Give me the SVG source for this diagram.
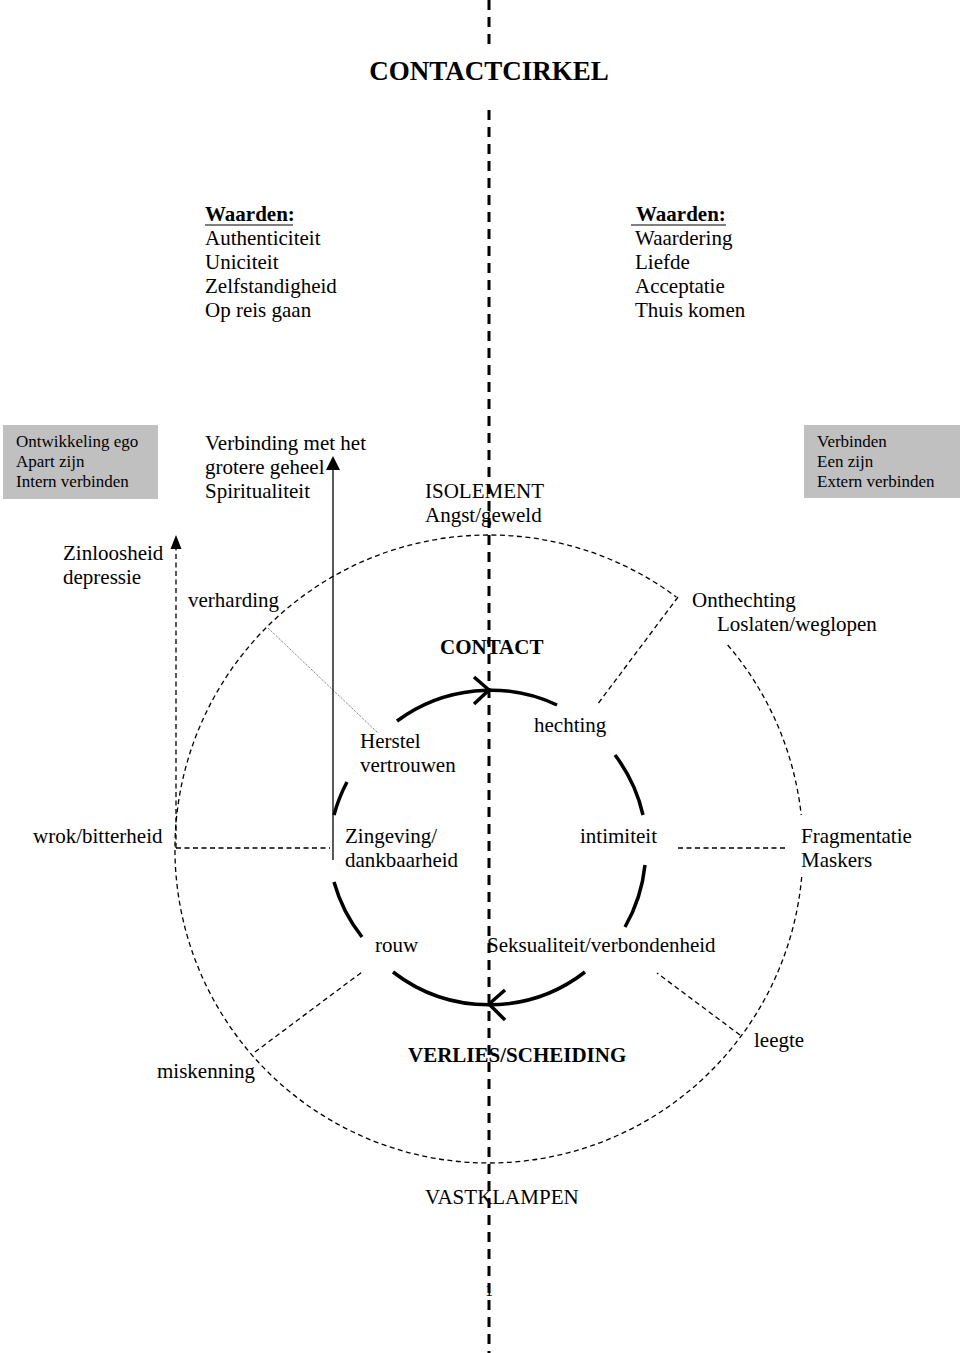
<svg xmlns="http://www.w3.org/2000/svg" width="960" height="1353" viewBox="0 0 960 1353">
<style>
text{font-family:"Liberation Serif","Times New Roman",serif;fill:#000;}
.t{font-size:21px;}
.s{font-size:17px;}
.b{font-weight:bold;}
.axis{stroke:#000;stroke-width:3;stroke-dasharray:10 7;fill:none;}
.dash{stroke:#000;stroke-width:1.3;stroke-dasharray:5 3.5;fill:none;}
.solid{stroke:#000;stroke-width:1.3;fill:none;}
.thick{stroke:#000;stroke-width:3.5;fill:none;}
.dot{stroke:#444;stroke-width:0.9;stroke-dasharray:1 1.2;fill:none;}
.box{fill:#c0c0c0;}
</style>
<rect width="960" height="1353" fill="#fff"/>

<g id="connectors">
  <line class="axis" x1="489" y1="0" x2="489" y2="46"/>
  <line class="axis" x1="489" y1="110" x2="489" y2="1353"/>
  <!-- outer dashed circle -->
  <path class="dash" d="M727.7,645 A314,314 0 0,1 801.2,815"/>
  <path class="dash" d="M801.7,877 A314,314 0 1,1 676.3,597"/>
  <!-- radial dashed lines -->
  <line class="dash" x1="678" y1="597" x2="597" y2="705"/>
  <line class="dash" x1="678" y1="848" x2="787" y2="848"/>
  <line class="dash" x1="740" y1="1035" x2="657" y2="973"/>
  <line class="dash" x1="255" y1="1052" x2="362" y2="972"/>
  <line class="dash" x1="176" y1="848" x2="330" y2="848"/>
  <!-- dotted line -->
  <line class="dot" x1="268" y1="628" x2="378" y2="733"/>
  <!-- left dashed arrow -->
  <line class="dash" x1="176" y1="848" x2="176" y2="547"/>
  <polygon points="176,535 170.5,549 181.5,549" fill="#000"/>
  <!-- solid arrow -->
  <line class="solid" x1="333" y1="860" x2="333" y2="468"/>
  <polygon points="333,456 326,470 340,470" fill="#000"/>
  <!-- inner circle -->
  <path class="thick" d="M397,721 A157,157 0 0,1 557,705"/>
  <path class="thick" d="M615,755 A157,157 0 0,1 643,815"/>
  <path class="thick" d="M645,865 A157,157 0 0,1 625,927"/>
  <path class="thick" d="M585,972 A157,157 0 0,1 393,972"/>
  <path class="thick" d="M362,937 A157,157 0 0,1 334,882"/>
  <path class="thick" d="M334,815 A157,157 0 0,1 347,782"/>
  <polyline class="thick" stroke-width="3" points="474,677 489,690 474,704"/>
  <polyline class="thick" stroke-width="3" points="505,990 489,1004 505,1020"/>
</g>

<g id="title"><text class="b" x="489" y="80" font-size="27" text-anchor="middle">CONTACTCIRKEL</text></g>

<g id="waarden-left">
  <text class="t b" x="205" y="221">Waarden:</text>
  <line x1="205" y1="225" x2="293" y2="225" stroke="#000" stroke-width="1.2"/>
  <text class="t" x="205" y="245">Authenticiteit</text>
  <text class="t" x="205" y="269">Uniciteit</text>
  <text class="t" x="205" y="293">Zelfstandigheid</text>
  <text class="t" x="205" y="317">Op reis gaan</text>
</g>
<g id="waarden-right">
  <text class="t b" x="636" y="221">Waarden:</text>
  <line x1="631" y1="225" x2="726" y2="225" stroke="#000" stroke-width="1.2"/>
  <text class="t" x="635" y="245">Waardering</text>
  <text class="t" x="635" y="269">Liefde</text>
  <text class="t" x="635" y="293">Acceptatie</text>
  <text class="t" x="635" y="317">Thuis komen</text>
</g>

<g id="box-left">
  <rect class="box" x="3" y="425" width="155" height="74"/>
  <text class="s" x="16" y="447">Ontwikkeling ego</text>
  <text class="s" x="16" y="467">Apart zijn</text>
  <text class="s" x="16" y="487">Intern verbinden</text>
</g>
<g id="box-right">
  <rect class="box" x="804" y="425" width="156" height="73"/>
  <text class="s" x="817" y="447">Verbinden</text>
  <text class="s" x="817" y="467">Een zijn</text>
  <text class="s" x="817" y="487">Extern verbinden</text>
</g>

<g id="spiritualiteit">
  <text class="t" x="205" y="450">Verbinding met het</text>
  <text class="t" x="205" y="474">grotere geheel</text>
  <text class="t" x="205" y="498">Spiritualiteit</text>
</g>
<g id="zinloosheid">
  <text class="t" x="63" y="560">Zinloosheid</text>
  <text class="t" x="63" y="584">depressie</text>
</g>
<g id="verharding"><text class="t" x="188" y="607">verharding</text></g>
<g id="isolement">
  <text class="t" x="425" y="498">ISOLEMENT</text>
  <text class="t" x="425" y="522">Angst/geweld</text>
</g>
<g id="onthechting">
  <text class="t" x="692" y="607">Onthechting</text>
  <text class="t" x="717" y="631">Loslaten/weglopen</text>
</g>
<g id="contact"><text class="t b" x="440" y="654">CONTACT</text></g>
<g id="herstel">
  <text class="t" x="360" y="748">Herstel</text>
  <text class="t" x="360" y="772">vertrouwen</text>
</g>
<g id="hechting"><text class="t" x="534" y="732">hechting</text></g>
<g id="wrok"><text class="t" x="33" y="843">wrok/bitterheid</text></g>
<g id="zingeving">
  <text class="t" x="345" y="843">Zingeving/</text>
  <text class="t" x="345" y="867">dankbaarheid</text>
</g>
<g id="intimiteit"><text class="t" x="580" y="843">intimiteit</text></g>
<g id="fragmentatie">
  <text class="t" x="801" y="843">Fragmentatie</text>
  <text class="t" x="801" y="867">Maskers</text>
</g>
<g id="rouw"><text class="t" x="375" y="952">rouw</text></g>
<g id="seksualiteit"><text class="t" x="487" y="952">Seksualiteit/verbondenheid</text></g>
<g id="verlies"><text class="t b" x="408" y="1062">VERLIES/SCHEIDING</text></g>
<g id="miskenning"><text class="t" x="157" y="1078">miskenning</text></g>
<g id="leegte"><text class="t" x="754" y="1047">leegte</text></g>
<g id="vastklampen"><text class="t" x="425" y="1204">VASTKLAMPEN</text></g>
<g id="page"><text x="485" y="1296" font-size="16">1</text></g>
</svg>
